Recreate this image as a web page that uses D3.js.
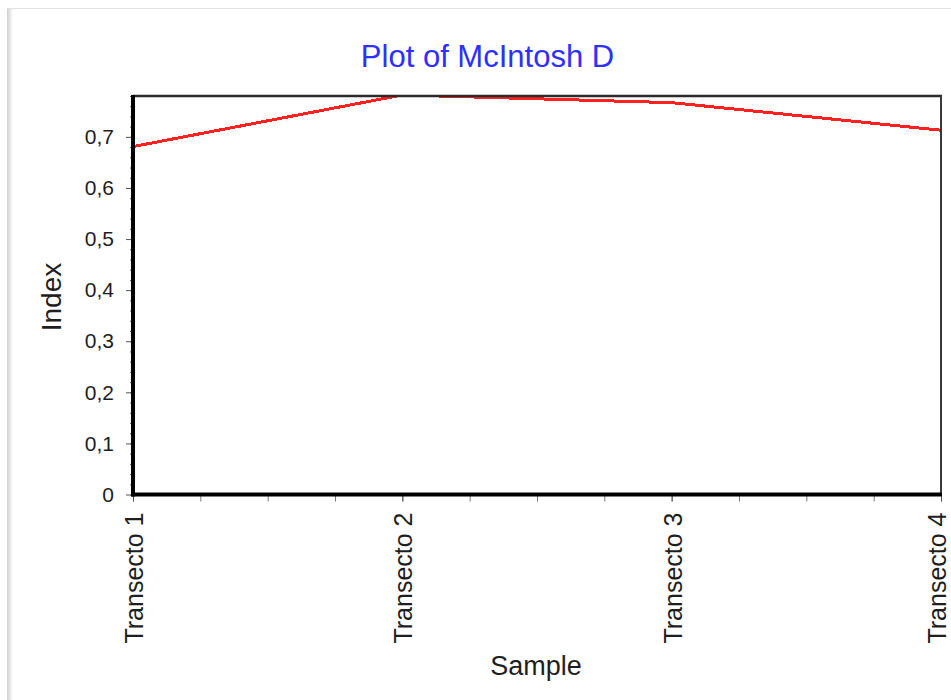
<!DOCTYPE html>
<html>
<head>
<meta charset="utf-8">
<script src="https://cdn.jsdelivr.net/npm/d3@7"></script>
<style>
  html, body { margin: 0; padding: 0; background: #fff; }
  svg { display: block; font-family: "Liberation Sans", Arial, sans-serif; }
</style>
</head>
<body>
<svg id="chart" width="951" height="700"></svg>
<script>
// McIntosh D diversity index per sample
const categories = ["Transecto 1", "Transecto 2", "Transecto 3", "Transecto 4"];
const mcintoshD = [0.681, 0.782, 0.767, 0.713];
const yTickValues = [0, 0.1, 0.2, 0.3, 0.4, 0.5, 0.6, 0.7];
const yTickLabels = ["0", "0,1", "0,2", "0,3", "0,4", "0,5", "0,6", "0,7"];
const titleText = "Plot of McIntosh D";
const xTitle = "Sample";
const yTitle = "Index";

const W = 951, H = 700;
const plot = { left: 133, right: 941, top: 96, bottom: 494.5 };

const svg = d3.select("#chart");

// panel frame with soft left shadow
const defs = svg.append("defs");
const grad = defs.append("linearGradient").attr("id", "shade").attr("x1", 0).attr("x2", 1);
grad.append("stop").attr("offset", 0).attr("stop-color", "#cfcfcf");
grad.append("stop").attr("offset", 1).attr("stop-color", "#ffffff");
svg.append("rect").attr("x", 7).attr("y", 8).attr("width", 6).attr("height", H - 8).attr("fill", "url(#shade)");
svg.append("line").attr("x1", 7).attr("x2", W).attr("y1", 8.5).attr("y2", 8.5)
  .attr("stroke", "#e2e2e2").attr("stroke-width", 1);

const x = d3.scalePoint().domain(categories).range([plot.left, plot.right]);
const xIdx = d3.scaleLinear().domain([0, categories.length - 1]).range([plot.left, plot.right]);
const y = d3.scaleLinear().domain([0, 0.78]).range([plot.bottom, plot.top]);

defs.append("clipPath").attr("id", "plotClip").append("rect")
  .attr("x", plot.left).attr("y", plot.top)
  .attr("width", plot.right - plot.left).attr("height", plot.bottom - plot.top);

// data line
const line = d3.line().x((d, i) => x(categories[i])).y(d => y(d));
svg.append("path")
  .datum(mcintoshD)
  .attr("clip-path", "url(#plotClip)")
  .attr("d", line)
  .attr("fill", "none")
  .attr("stroke", "#ff2020")
  .attr("stroke-width", 3)
  .attr("shape-rendering", "crispEdges");

// top and right frame
svg.append("line").attr("x1", plot.left).attr("x2", plot.right + 1).attr("y1", plot.top).attr("y2", plot.top)
  .attr("stroke", "#2a2a2a").attr("stroke-width", 2.5);
svg.append("line").attr("x1", plot.right).attr("x2", plot.right).attr("y1", plot.top).attr("y2", plot.bottom)
  .attr("stroke", "#3a3a3a").attr("stroke-width", 2);

// y axis: minor ticks
const yMinor = d3.range(0, 0.7801, 0.02);
svg.append("g").attr("transform", `translate(${plot.left},0)`)
  .call(d3.axisLeft(y).tickValues(yMinor).tickSize(3).tickFormat(""))
  .call(g => g.select(".domain").remove())
  .call(g => g.selectAll("line").attr("stroke", "#666"));

// y axis: major ticks and labels
const yAxis = svg.append("g").attr("transform", `translate(${plot.left},0)`)
  .call(d3.axisLeft(y).tickValues(yTickValues).tickSize(7).tickPadding(12)
    .tickFormat((d, i) => yTickLabels[i]));
yAxis.select(".domain").remove();
yAxis.selectAll("line").attr("stroke", "#555");
yAxis.selectAll("text").attr("font-size", 21).attr("fill", "#1e1e1e")
  .attr("font-family", "'Liberation Sans', Arial, sans-serif");

// x axis: minor ticks
svg.append("g").attr("transform", `translate(0,${plot.bottom})`)
  .call(d3.axisBottom(xIdx).tickValues(d3.range(0, categories.length - 1 + 0.001, 0.25)).tickSize(7).tickFormat(""))
  .call(g => g.select(".domain").remove())
  .call(g => g.selectAll("line").attr("stroke", "#777"));

// x axis: category labels
const xAxis = svg.append("g").attr("transform", `translate(0,${plot.bottom})`)
  .call(d3.axisBottom(x).tickSize(7));
xAxis.select(".domain").remove();
xAxis.selectAll("line").attr("stroke", "#555");
const lastCat = categories[categories.length - 1];
xAxis.selectAll("text")
  .attr("font-size", 25).attr("fill", "#1e1e1e")
  .attr("font-family", "'Liberation Sans', Arial, sans-serif")
  .attr("transform", "rotate(-90)")
  .attr("x", -18).attr("y", 0)
  .attr("dy", d => d === lastCat ? "0.17em" : "0.38em")
  .style("text-anchor", "end");

// thick left and bottom axis lines
svg.append("line").attr("x1", plot.left).attr("x2", plot.left).attr("y1", plot.top - 1).attr("y2", plot.bottom + 2)
  .attr("stroke", "#000").attr("stroke-width", 4);
svg.append("line").attr("x1", plot.left - 2).attr("x2", plot.right + 1).attr("y1", plot.bottom).attr("y2", plot.bottom)
  .attr("stroke", "#000").attr("stroke-width", 4);

// titles
svg.append("text").attr("x", 487.5).attr("y", 67).attr("text-anchor", "middle")
  .attr("font-size", 31).attr("fill", "#2f2fff").text(titleText);
svg.append("text").attr("x", 536).attr("y", 675).attr("text-anchor", "middle")
  .attr("font-size", 27).attr("fill", "#1e1e1e").text(xTitle);
svg.append("text").attr("transform", "translate(61,297) rotate(-90)").attr("text-anchor", "middle")
  .attr("font-size", 28).attr("fill", "#1e1e1e").text(yTitle);
</script>
</body>
</html>
